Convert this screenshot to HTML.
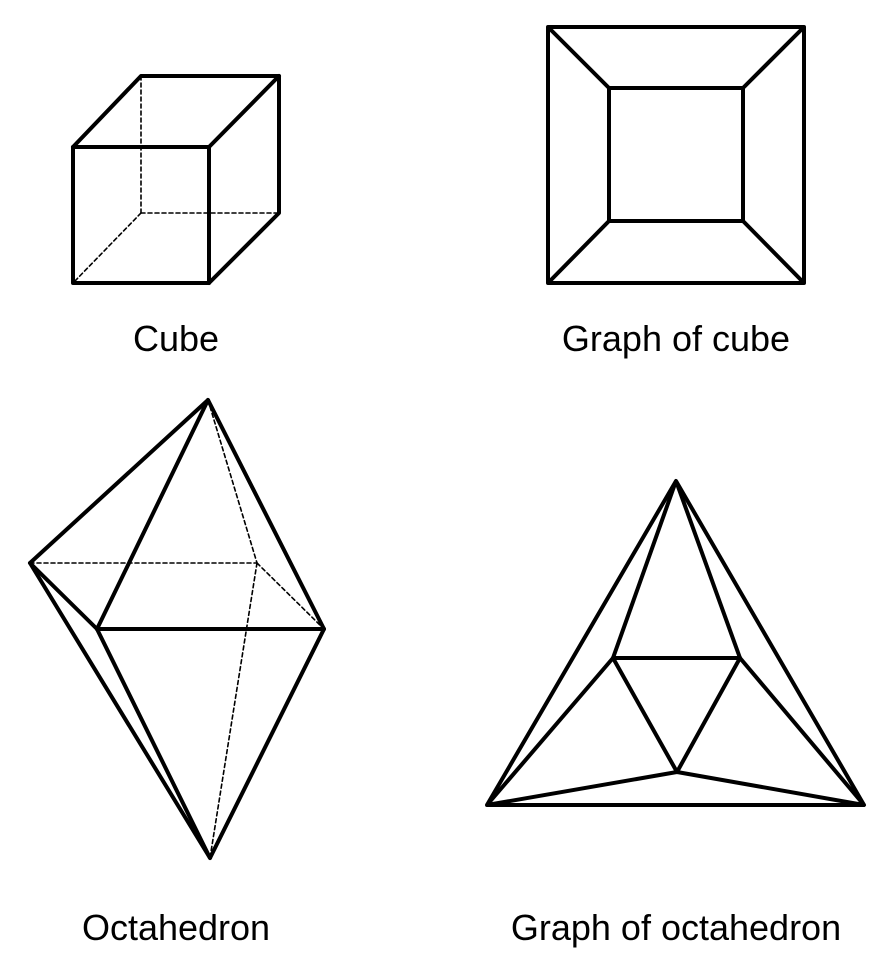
<!DOCTYPE html>
<html><head><meta charset="utf-8"><style>
html,body{margin:0;padding:0;background:#fff;width:892px;height:966px;overflow:hidden}
svg{display:block}
text{font-family:"Liberation Sans",sans-serif;font-size:36px;fill:#000}
</style></head><body>
<svg width="892" height="966" viewBox="0 0 892 966">
<g fill="none" stroke="#000" stroke-linejoin="round" stroke-linecap="round">
<g stroke-width="1.6" stroke-dasharray="4,3">
<line x1="141" y1="76" x2="141" y2="213"/><line x1="141" y1="213" x2="279" y2="213"/><line x1="141" y1="213" x2="73" y2="283"/>
</g>
<g stroke-width="4">
<rect x="73" y="147" width="136" height="136"/>
<polyline points="73,147 141,76 279,76 279,213 209,283"/>
<line x1="209" y1="147" x2="279" y2="76"/>
</g>
</g>
<g fill="none" stroke="#000" stroke-width="4" stroke-linejoin="round">
<rect x="548" y="27" width="256" height="256"/>
<rect x="609" y="88" width="134" height="133"/>
<line x1="548" y1="27" x2="609" y2="88"/><line x1="804" y1="27" x2="743" y2="88"/>
<line x1="548" y1="283" x2="609" y2="221"/><line x1="804" y1="283" x2="743" y2="221"/>
</g>
<g fill="none" stroke="#000" stroke-linejoin="round" stroke-linecap="round">
<g stroke-width="1.6" stroke-dasharray="4,3">
<line x1="208" y1="400" x2="257" y2="563"/><line x1="30" y1="563" x2="257" y2="563"/>
<line x1="257" y1="563" x2="324" y2="629"/><line x1="257" y1="563" x2="210" y2="858"/>
</g>
<g stroke-width="4">
<polygon points="208,400 324,629 210,858 30,563"/>
<line x1="208" y1="400" x2="97" y2="629"/><line x1="30" y1="563" x2="97" y2="629"/>
<line x1="97" y1="629" x2="324" y2="629"/><line x1="97" y1="629" x2="210" y2="858"/>
</g>
</g>
<g fill="none" stroke="#000" stroke-width="4" stroke-linejoin="round">
<polygon points="676,481 864,805 487,805"/>
<polygon points="613,658 740,658 677,772"/>
<line x1="676" y1="481" x2="613" y2="658"/><line x1="676" y1="481" x2="740" y2="658"/>
<line x1="487" y1="805" x2="613" y2="658"/><line x1="487" y1="805" x2="677" y2="772"/>
<line x1="864" y1="805" x2="740" y2="658"/><line x1="864" y1="805" x2="677" y2="772"/>
</g>
<text x="176" y="351" text-anchor="middle">Cube</text>
<text x="676" y="351" text-anchor="middle">Graph of cube</text>
<text x="176" y="940" text-anchor="middle">Octahedron</text>
<text x="676" y="940" text-anchor="middle">Graph of octahedron</text>
</svg>
</body></html>
